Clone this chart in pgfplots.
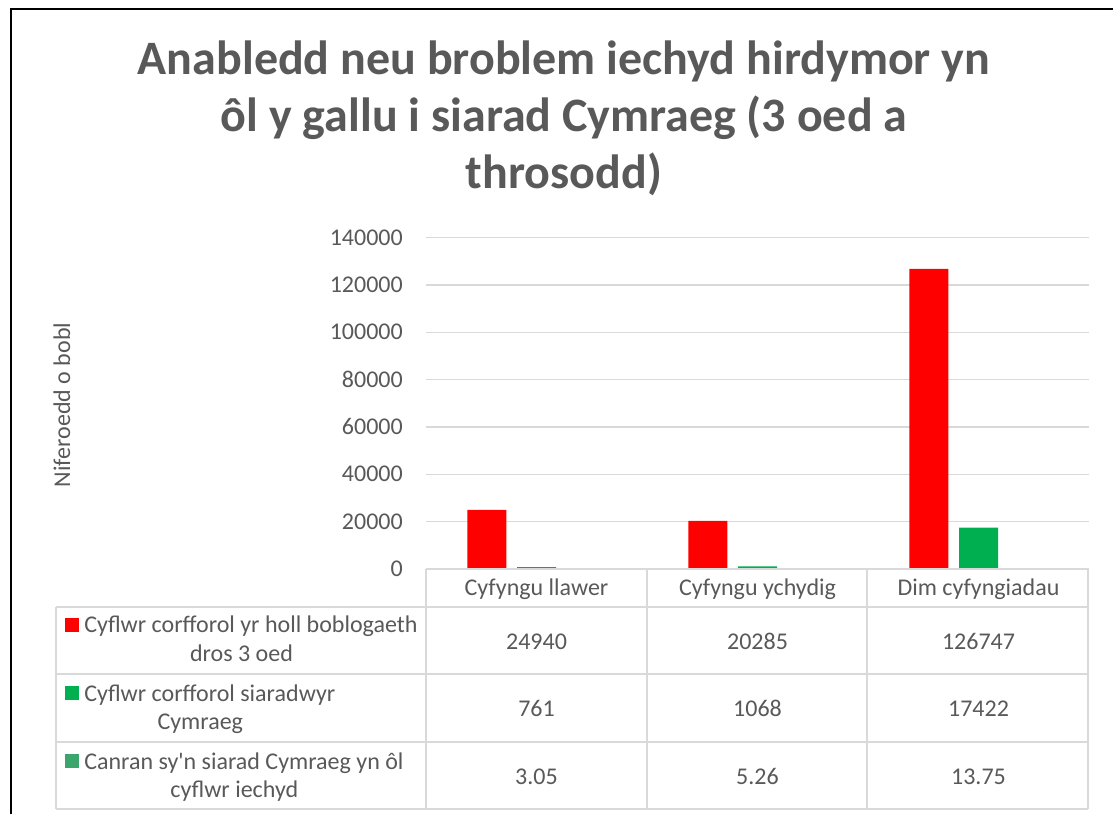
\documentclass[border=0pt]{standalone}
\usepackage{pgfplots}
\pgfplotsset{compat=1.18}
\usepackage{fontspec}
\setmainfont{Carlito}
\definecolor{txt}{HTML}{595959}
\definecolor{gridc}{HTML}{D9D9D9}
\definecolor{kred}{HTML}{FF0000}
\definecolor{kgreen}{HTML}{00B050}
\definecolor{kteal}{HTML}{3AA66B}
\newcommand{\body}{\fontsize{18}{21.6}\selectfont}
\newcommand{\ttl}{\fontsize{36}{43}\selectfont\bfseries}
\newcommand{\key}[1]{\textcolor{#1}{\rule[0.75pt]{10.5pt}{10.5pt}}\hspace{3.75pt}}
\begin{document}
\begin{tikzpicture}
\begin{scope}[x=0.75pt,y=0.75pt]
\fill[white] (0,0) rectangle (1113,814);
\draw[black, line width=1.5pt] (11,0) -- (11,805) -- (1113,805);
\end{scope}

\begin{axis}[
  at={(319.5pt,183.75pt)}, anchor=south west,
  scale only axis, width=497.25pt, height=248.625pt,
  xmin=-0.5, xmax=2.5, ymin=0, ymax=140000,
  ytick={0,20000,40000,60000,80000,100000,120000,140000},
  yticklabels={0,20000,40000,60000,80000,100000,120000,140000},
  scaled y ticks=false,
  xtick=\empty,
  ymajorgrids, grid style={color=gridc, line width=1pt},
  axis line style={draw=none},
  major tick length=0pt,
  yticklabel style={font=\body, text=txt, anchor=east, inner sep=0pt, xshift=-17.25pt},
  ybar=7.9pt, bar width=29.25pt,
  clip=false,
]
\addplot[fill=kred, draw=none] coordinates {(0,24940) (1,20285) (2,126747)};
\addplot[fill=kgreen, draw=none] coordinates {(0,761) (1,1068) (2,17422)};
\addplot[fill=kteal, draw=none] coordinates {(0,3.05) (1,5.26) (2,13.75)};
\end{axis}

\begin{scope}[x=0.75pt,y=0.75pt]
% data table lines
\begin{scope}[gridc, line width=1.1pt]
\draw (426,814-569) -- (1088,814-569);
\draw (56,814-607) -- (1088,814-607);
\draw (56,814-674) -- (1088,814-674);
\draw (56,814-742) -- (1088,814-742);
\draw (56,814-809) -- (1088,814-809);
\foreach \x in {426,647,867,1088} \draw (\x,814-569) -- (\x,814-809);
\draw (56,814-607) -- (56,814-809);
\end{scope}

% title
\node[font=\ttl, text=txt, anchor=base] at (564,814-75) {Anabledd neu broblem iechyd hirdymor yn};
\node[font=\ttl, text=txt, anchor=base] at (564,814-132) {ôl y gallu i siarad Cymraeg (3 oed a};
\node[font=\ttl, text=txt, anchor=base] at (564,814-189) {throsodd)};

% y title
\node[rotate=90, anchor=base, font=\body, text=txt, inner sep=0pt] at (70,814-405) {Niferoedd o bobl};

% header
\node[anchor=base, font=\body, text=txt, inner sep=0pt] at (536.5,814-596) {Cyfyngu llawer};
\node[anchor=base, font=\body, text=txt, inner sep=0pt] at (757.5,814-596) {Cyfyngu ychydig};
\node[anchor=base, font=\body, text=txt, inner sep=0pt] at (978.5,814-596) {Dim cyfyngiadau};

% values
\node[anchor=base, font=\body, text=txt, inner sep=0pt] at (536.5,814-649) {24940};
\node[anchor=base, font=\body, text=txt, inner sep=0pt] at (757.5,814-649) {20285};
\node[anchor=base, font=\body, text=txt, inner sep=0pt] at (978.5,814-649) {126747};
\node[anchor=base, font=\body, text=txt, inner sep=0pt] at (536.5,814-716) {761};
\node[anchor=base, font=\body, text=txt, inner sep=0pt] at (757.5,814-716) {1068};
\node[anchor=base, font=\body, text=txt, inner sep=0pt] at (978.5,814-716) {17422};
\node[anchor=base, font=\body, text=txt, inner sep=0pt] at (536.5,814-784) {3.05};
\node[anchor=base, font=\body, text=txt, inner sep=0pt] at (757.5,814-784) {5.26};
\node[anchor=base, font=\body, text=txt, inner sep=0pt] at (978.5,814-784) {13.75};

% row labels
\node[anchor=base west, inner sep=0pt, font=\body, text=txt] (r1) at (65,814-633) {\key{kred}Cyflwr corfforol yr holl boblogaeth};
\node[anchor=base, inner sep=0pt, font=\body, text=txt] at ([yshift=-21.4pt]r1.base) {dros 3 oed};
\node[anchor=base west, inner sep=0pt, font=\body, text=txt] (r2) at (65,814-701) {\key{kgreen}Cyflwr corfforol siaradwyr};
\node[anchor=base, inner sep=0pt, font=\body, text=txt] at ([yshift=-21.4pt]r2.base) {Cymraeg};
\node[anchor=base west, inner sep=0pt, font=\body, text=txt] (r3) at (65,814-769) {\key{kteal}Canran sy\textquotesingle n siarad Cymraeg yn ôl};
\node[anchor=base, inner sep=0pt, font=\body, text=txt] at ([yshift=-21.4pt]r3.base) {cyflwr iechyd};
\end{scope}

\pgfresetboundingbox
\useasboundingbox (0,0) rectangle (834.75pt,610.5pt);
\end{tikzpicture}
\end{document}
